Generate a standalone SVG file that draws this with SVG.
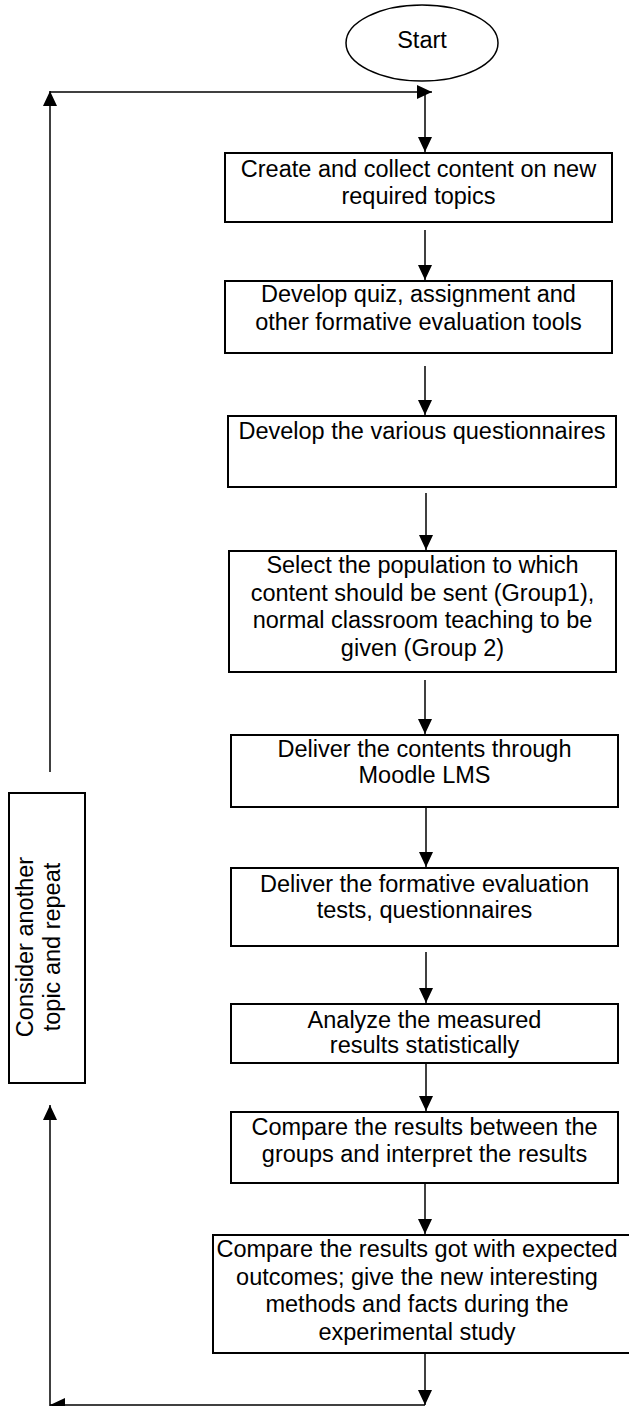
<svg xmlns="http://www.w3.org/2000/svg" width="629" height="1406" viewBox="0 0 629 1406">
<style>
.box{fill:#fff;stroke:#000;stroke-width:2}
.t{font-family:"Liberation Sans",Arial,sans-serif;font-size:23.5px;fill:#000;text-anchor:middle}
.c{fill:none;stroke:#000;stroke-width:1.5}
</style>
<defs>
<marker id="ah" markerUnits="userSpaceOnUse" markerWidth="16" markerHeight="14" refX="15" refY="7" orient="auto">
<path d="M0,0 L15,7 L0,14 z" fill="#000"/>
</marker>
</defs>
<rect width="629" height="1406" fill="#fff"/>
<g id="connectors">
<line class="c" x1="50" y1="772" x2="50" y2="91" marker-end="url(#ah)"/>
<line class="c" x1="50" y1="92" x2="432" y2="92" marker-end="url(#ah)"/>
<line class="c" x1="425" y1="92" x2="425" y2="152" marker-end="url(#ah)"/>
<line class="c" x1="425" y1="230" x2="425" y2="280" marker-end="url(#ah)"/>
<line class="c" x1="425" y1="366" x2="425" y2="415" marker-end="url(#ah)"/>
<line class="c" x1="426" y1="493" x2="426" y2="550" marker-end="url(#ah)"/>
<line class="c" x1="425" y1="680" x2="425" y2="734" marker-end="url(#ah)"/>
<line class="c" x1="426" y1="808" x2="426" y2="867" marker-end="url(#ah)"/>
<line class="c" x1="426" y1="952" x2="426" y2="1003" marker-end="url(#ah)"/>
<line class="c" x1="426" y1="1064" x2="426" y2="1111" marker-end="url(#ah)"/>
<line class="c" x1="425" y1="1184" x2="425" y2="1234" marker-end="url(#ah)"/>
<line class="c" x1="425" y1="1354" x2="425" y2="1405" marker-end="url(#ah)"/>
<line class="c" x1="425" y1="1405" x2="50" y2="1405" marker-end="url(#ah)"/>
<line class="c" x1="50" y1="1406" x2="50" y2="1105" marker-end="url(#ah)"/>
</g>
<g id="start">
<ellipse cx="422" cy="43" rx="76" ry="38" fill="#fff" stroke="#000" stroke-width="1.5"/>
<text class="t" x="422" y="48">Start</text>
</g>
<g id="n1">
<rect class="box" x="225" y="153" width="387" height="69"/>
<text class="t" x="418.5" y="177">Create and collect content on new</text>
<text class="t" x="418.5" y="204">required topics</text>
</g>
<g id="n2">
<rect class="box" x="225" y="281" width="387" height="72"/>
<text class="t" x="418.5" y="302">Develop quiz, assignment and</text>
<text class="t" x="418.5" y="330">other formative evaluation tools</text>
</g>
<g id="n3">
<rect class="box" x="228" y="416" width="388" height="71"/>
<text class="t" x="422" y="439">Develop the various questionnaires</text>
</g>
<g id="n4">
<rect class="box" x="229" y="551" width="387" height="121"/>
<text class="t" x="422.5" y="573">Select the population to which</text>
<text class="t" x="422.5" y="600.5">content should be sent (Group1),</text>
<text class="t" x="422.5" y="628">normal classroom teaching to be</text>
<text class="t" x="422.5" y="655.5">given (Group 2)</text>
</g>
<g id="n5">
<rect class="box" x="231" y="735" width="387" height="72"/>
<text class="t" x="424.5" y="757">Deliver the contents through</text>
<text class="t" x="424.5" y="783">Moodle LMS</text>
</g>
<g id="n6">
<rect class="box" x="231" y="868" width="387" height="78"/>
<text class="t" x="424.5" y="892">Deliver the formative evaluation</text>
<text class="t" x="424.5" y="918">tests, questionnaires</text>
</g>
<g id="n7">
<rect class="box" x="231" y="1004" width="387" height="59"/>
<text class="t" x="424.5" y="1028">Analyze the measured</text>
<text class="t" x="424.5" y="1053">results statistically</text>
</g>
<g id="n8">
<rect class="box" x="231" y="1112" width="387" height="71"/>
<text class="t" x="424.5" y="1135">Compare the results between the</text>
<text class="t" x="424.5" y="1162">groups and interpret the results</text>
</g>
<g id="n9">
<rect class="box" x="213" y="1235" width="418" height="118"/>
<text class="t" x="417" y="1257">Compare the results got with expected</text>
<text class="t" x="417" y="1284.5">outcomes; give the new interesting</text>
<text class="t" x="417" y="1312">methods and facts during the</text>
<text class="t" x="417" y="1339.5">experimental study</text>
</g>
<g id="side">
<rect class="box" x="9" y="793" width="76" height="290"/>
<text class="t" transform="translate(33,947) rotate(-90)">Consider another</text>
<text class="t" transform="translate(60,947) rotate(-90)">topic and repeat</text>
</g>
</svg>
